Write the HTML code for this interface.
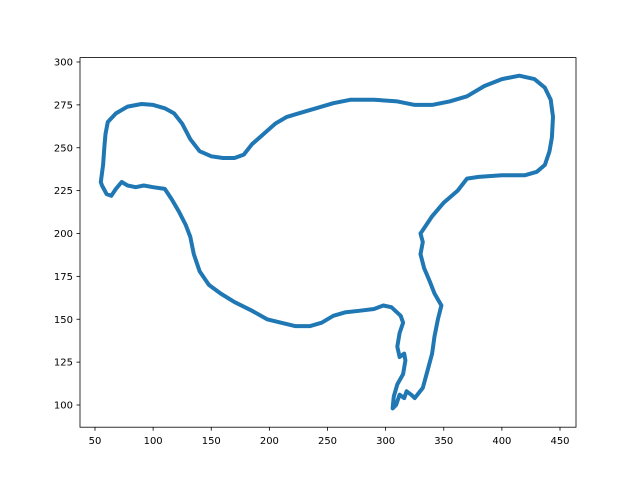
<!DOCTYPE html>
<html><head><meta charset="utf-8"><style>body{margin:0;background:#fff}svg{display:block}text{font-family:"DejaVu Sans","Liberation Sans",sans-serif;font-size:10px;fill:#000}</style></head>
<body>
<svg id="chart" width="640" height="480">
<rect x="0" y="0" width="640" height="480" fill="#fff"/>
<g id="plot"></g>
<rect x="80" y="57.6" width="496" height="369.6" fill="none" stroke="#000" stroke-width="0.8"/>
<g id="xt"></g><g id="yt"></g>
</svg>
<script>
const xs=[55,57,58,59,61,68,78,90,100,110,118,125,132,140,150,160,170,178,185,195,205,215,225,240,255,270,290,310,325,340,355,370,385,400,415,428,437,442,444,443,441,437,430,420,400,380,370,362,350,340,333,330,332,330,333,338,342,348,345,342,340,336,332,325,322,318,316,312,309,306,307,310,315,317,316,312,310,312,315,313,305,298,290,278,265,255,245,235,222,210,198,185,170,158,148,140,135,132,128,122,116,110,100,92,85,78,73,68,64,60,56,55];
const ys=[230,240,250,258,265,270,274,275.5,275,273,270,264,255,248,245,244,244,246,252,258,264,268,270,273,276,278,278,277,275,275,277,280,286,290,292,290,285,278,268,256,248,240,236,234,234,233,232,225,218,210,203,200,195,188,180,172,165,158,150,140,130,120,110,104,106,108,104,106,100,98,105,112,118,126,130,128,134,142,148,152,157,158,156,155,154,152,148,146,146,148,150,155,160,165,170,178,188,198,205,213,220,226,227,228,227,228,230,226,222,223,228,230];
const xTicks=[50,100,150,200,250,300,350,400,450];
const yTicks=[100,125,150,175,200,225,250,275,300];
const X=v=>95+(v-50)*1.1625, Y=v=>405-(v-100)*1.715;
const NS='http://www.w3.org/2000/svg';
const plot=document.getElementById('plot');
let d=xs.map((x,i)=>(i?'L':'M')+X(x).toFixed(1)+','+Y(ys[i]).toFixed(1)).join('');
const p=document.createElementNS(NS,'path');
p.setAttribute('d',d);p.setAttribute('fill','none');p.setAttribute('stroke','#1f77b4');
p.setAttribute('stroke-width','4');p.setAttribute('stroke-linejoin','round');p.setAttribute('stroke-linecap','round');


plot.appendChild(p);
const xt=document.getElementById('xt'),yt=document.getElementById('yt');
xTicks.forEach(v=>{const x=X(v);
 const l=document.createElementNS(NS,'line');l.setAttribute('x1',x);l.setAttribute('x2',x);l.setAttribute('y1',427.2);l.setAttribute('y2',430.7);l.setAttribute('stroke','#000');l.setAttribute('stroke-width','0.8');
 
 
 xt.appendChild(l);
 const t=document.createElementNS(NS,'text');t.setAttribute('x',x);t.setAttribute('y',444);t.setAttribute('text-anchor','middle');t.textContent=v;
 
 
 xt.appendChild(t);});
yTicks.forEach(v=>{const y=Y(v);
 const l=document.createElementNS(NS,'line');l.setAttribute('x1',76.5);l.setAttribute('x2',80);l.setAttribute('y1',y);l.setAttribute('y2',y);l.setAttribute('stroke','#000');l.setAttribute('stroke-width','0.8');
 
 
 yt.appendChild(l);
 const t=document.createElementNS(NS,'text');t.setAttribute('x',73);t.setAttribute('y',y+3.6);t.setAttribute('text-anchor','end');t.textContent=v;
 
 
 yt.appendChild(t);});
</script>
</body></html>
